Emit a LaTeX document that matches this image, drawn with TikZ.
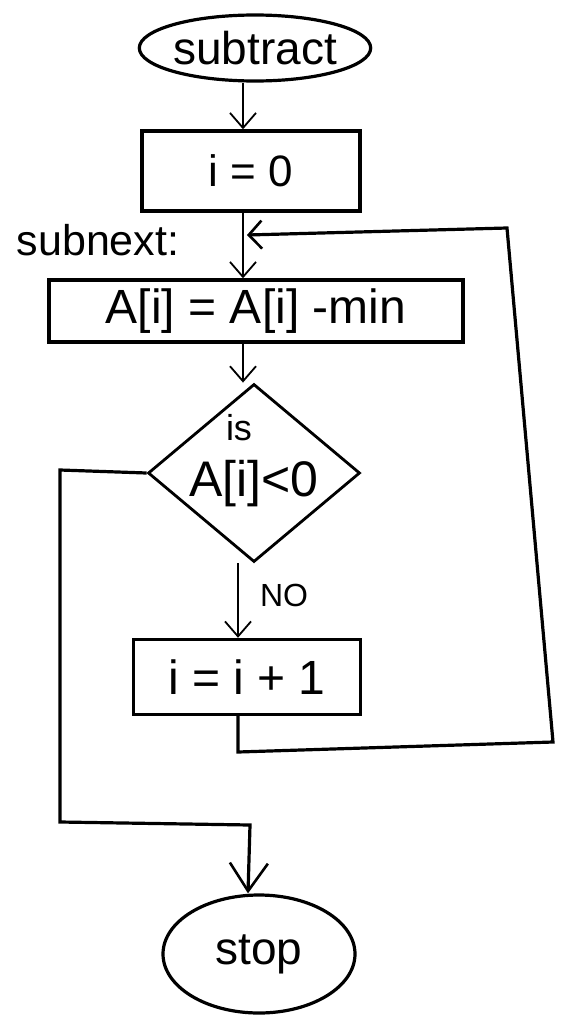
\documentclass[tikz,border=0pt]{standalone}
\usepackage{fontspec}
\setmainfont{Liberation Sans}
\usetikzlibrary{shapes.geometric,arrows.meta}
\begin{document}
\begin{tikzpicture}[x=1pt,y=-1pt,
  box/.style={draw,line width=3.4pt,rectangle,inner sep=0pt},
  term/.style={draw,line width=3.2pt,ellipse,inner sep=0pt},
  decbox/.style={draw,line width=2.8pt,diamond,inner sep=0pt},
  lbl/.style={inner sep=0pt},
  fs/.style={font=\fontsize{#1}{#1}\selectfont},
  thinarrow/.style={line width=1.8pt,-{Straight Barb[length=15pt,width=26pt,line width=1.8pt]}},
  thickpath/.style={line width=3.2pt,line join=miter}
]
\useasboundingbox (0,0) rectangle (565,1015);

% nodes
\node[term, minimum width=221pt, minimum height=66pt, fs=46] (start) at (255,48) {subtract};
\node[box, minimum width=218pt, minimum height=80pt, fs=44] (init) at (251,171) {i = 0};
\node[lbl, fs=43] (subnext) at (98,240) {subnext:};
\node[box, minimum width=414pt, minimum height=62pt, fs=48] (calc) at (256,311) {A[i] = A[i] -min};
\node[decbox, minimum width=212pt, minimum height=178pt] (dec) at (254,473) {};
\node[lbl, fs=36] (qis) at (239,428) {is};
\node[lbl, fs=50] (qcond) at (254,484) {A[i]<0};
\node[lbl, fs=32] (no) at (284,595) {NO};
\node[box, minimum width=227pt, minimum height=75pt, fs=48] (inc) at (247,677) {i = i + 1};
\node[term, minimum width=192pt, minimum height=118pt, fs=46] (stop) at (259,954) {stop};

% helper coordinates
\coordinate (ax) at (243,0);
\coordinate (ax2) at (238,0);
\coordinate (sx) at (248,0);
\coordinate (lp) at (247,235);
\coordinate (lb1) at (238,752);
\coordinate (lb2) at (553,742);
\coordinate (lb3) at (507,228);
\coordinate (lf1) at (60,470);
\coordinate (lf2) at (60,822);
\coordinate (lf3) at (250,825);

% connectors
\draw[thinarrow] (start.south -| ax) -- (init.north -| ax);
\draw[thinarrow] (init.south -| ax) -- (calc.north -| ax);
\draw[thinarrow] (calc.south -| ax) -- (dec.north -| ax);
\draw[thinarrow] (dec.south -| ax2) -- (inc.north -| ax2);
\draw[thickpath,-{Straight Barb[length=13pt,width=28pt,line width=2.6pt]}]
  (inc.south -| ax2) -- (lb1) -- (lb2) -- (lb3) -- (lp);
\draw[thickpath,-{Straight Barb[length=28pt,width=38pt,line width=2.6pt]}]
  (dec.west) -- (lf1) -- (lf2) -- (lf3) -- (stop.north -| sx);
\end{tikzpicture}
\end{document}
